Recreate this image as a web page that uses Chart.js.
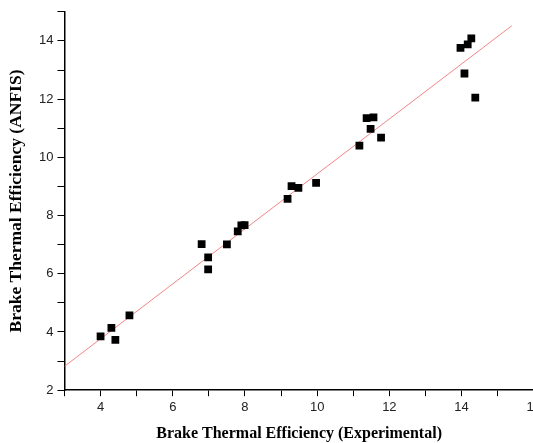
<!DOCTYPE html>
<html>
<head>
<meta charset="utf-8">
<script src="https://cdn.jsdelivr.net/npm/chart.js@4/dist/chart.umd.min.js"></script>
<style>
html,body{margin:0;padding:0;background:#fff;overflow:hidden;width:533px;height:443px;}
#wrap{position:absolute;left:0;top:0;width:544px;height:443px;}
</style>
</head>
<body>
<div id="wrap"><canvas id="c" width="544" height="443"></canvas></div>
<script>
const expValues = [4.0, 4.30, 4.41, 4.80, 6.80, 6.98, 6.98, 7.50, 7.80, 7.90, 7.99, 9.18, 9.29, 9.48, 9.97, 11.17, 11.37, 11.48, 11.56, 11.77, 13.97, 14.08, 14.17, 14.27, 14.38];
const anfisValues = [3.85, 4.14, 3.73, 4.57, 7.02, 6.56, 6.15, 7.01, 7.46, 7.66, 7.67, 8.57, 9.01, 8.95, 9.12, 10.40, 11.35, 10.98, 11.37, 10.68, 13.76, 12.88, 13.88, 14.09, 12.05];
const fitLineX = [3, 15.39];
const fitLineY = [2.82, 14.52];
const xTickLabels = [4, 6, 8, 10, 12, 14, 16];
const yTickLabels = [2, 4, 6, 8, 10, 12, 14];

const points = expValues.map((x, i) => ({x: x, y: anfisValues[i]}));
const fitLine = fitLineX.map((x, i) => ({x: x, y: fitLineY[i]}));

new Chart(document.getElementById('c'), {
  type: 'scatter',
  data: {
    datasets: [
      {
        type: 'line',
        data: fitLine,
        borderColor: 'rgba(240,120,120,0.9)',
        borderWidth: 1,
        pointRadius: 0,
        fill: false,
        order: 2
      },
      {
        data: points,
        pointStyle: 'rect',
        pointRadius: 5.5,
        pointHoverRadius: 5.5,
        backgroundColor: '#000',
        borderColor: '#000',
        borderWidth: 0,
        order: 1
      }
    ]
  },
  options: {
    responsive: false,
    animation: false,
    events: [],
    layout: {padding: {left: 6, right: 0, top: 10, bottom: 0}},
    plugins: {legend: {display: false}, tooltip: {enabled: false}},
    scales: {
      x: {
        type: 'linear',
        min: 3, max: 16,
        border: {display: true, color: '#000', width: 1.5},
        grid: {display: true, drawOnChartArea: false, drawTicks: true, tickLength: 6, color: '#000', tickWidth: 1},
        ticks: {
          stepSize: 1,
          autoSkip: false,
          maxRotation: 0,
          padding: 3,
          color: '#222',
          font: {family: 'Liberation Sans', size: 13},
          callback: (v) => xTickLabels.includes(v) ? String(v) : ''
        },
        title: {
          display: true,
          text: 'Brake Thermal Efficiency (Experimental)',
          color: '#000',
          font: {family: 'Liberation Serif', size: 16, weight: 'bold'},
          padding: {top: 6, bottom: 0}
        }
      },
      y: {
        type: 'linear',
        min: 2, max: 15,
        border: {display: true, color: '#000', width: 1.5},
        grid: {display: true, drawOnChartArea: false, drawTicks: true, tickLength: 7, color: '#000', tickWidth: 1},
        ticks: {
          stepSize: 1,
          autoSkip: false,
          padding: 4,
          color: '#222',
          font: {family: 'Liberation Sans', size: 13},
          callback: (v) => yTickLabels.includes(v) ? String(v) : ''
        },
        title: {
          display: true,
          text: 'Brake Thermal Efficiency (ANFIS)',
          color: '#000',
          font: {family: 'Liberation Serif', size: 17.5, weight: 'bold'},
          padding: {top: 0, bottom: 8}
        }
      }
    }
  }
});
</script>
</body>
</html>
